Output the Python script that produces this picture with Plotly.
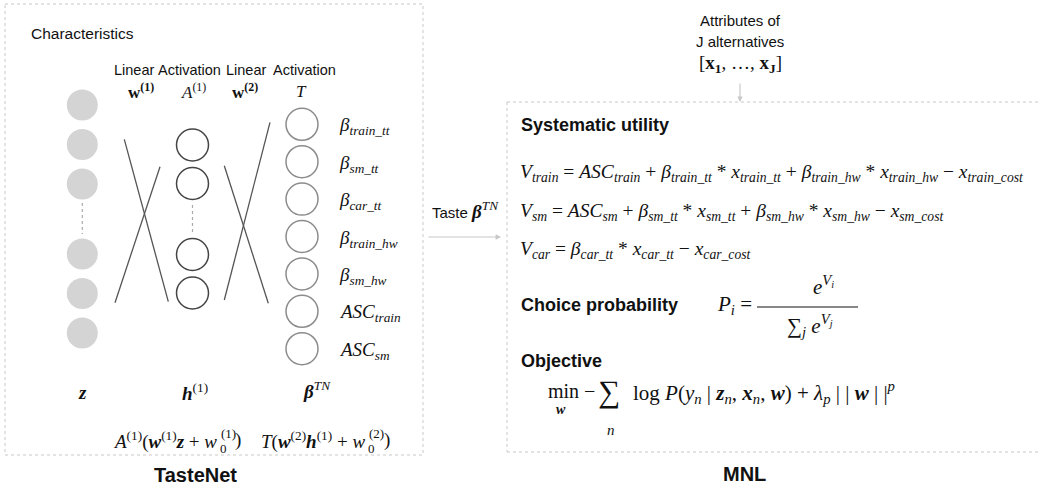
import plotly.graph_objects as go

W, H = 1040, 489
SERIF = "Liberation Serif"
SANS = "Liberation Sans"
INK = "#111111"
BOX = "#c8c8c8"

# ---- content (labels / structure) ----
layer_titles = ["Linear", "Activation", "Linear", "Activation"]
layer_ops = ["<b>w</b><sup><b>(1)</b></sup>", "<i>A</i><sup>(1)</sup>",
             "<b>w</b><sup><b>(2)</b></sup>", "<i>T</i>"]
input_groups = [3, 3]          # grey input nodes above / below the ellipsis
hidden_groups = [2, 2]         # hidden nodes above / below the ellipsis
taste_params = ["β<sub>train_tt</sub>", "β<sub>sm_tt</sub>", "β<sub>car_tt</sub>",
                "β<sub>train_hw</sub>", "β<sub>sm_hw</sub>",
                "ASC<sub>train</sub>", "ASC<sub>sm</sub>"]
alternatives = ["train", "sm", "car"]
utility_terms = {"train": ["ASC", "tt", "hw"], "sm": ["ASC", "tt", "hw"], "car": ["tt"]}
section_titles = ["Systematic utility", "Choice probability", "Objective"]
panel_titles = ["TasteNet", "MNL"]

fig = go.Figure()
shapes = []
ann = []


def txt(x, y, s, size, family=SERIF, xanchor="left", color=INK, yanchor="middle"):
    ann.append(dict(x=x, y=y, text=s, showarrow=False, xanchor=xanchor, yanchor=yanchor,
                    font=dict(family=family, size=size, color=color)))


def circle(cx, cy, r, fill=None, line=None, lw=1.5):
    shapes.append(dict(type="circle", x0=cx - r, x1=cx + r, y0=cy - r, y1=cy + r,
                       fillcolor=fill if fill else "rgba(0,0,0,0)",
                       line=dict(color=line if line else "rgba(0,0,0,0)", width=lw)))


def seg(x0, y0, x1, y1, color="#555555", w=1.3, dash=None):
    d = dict(color=color, width=w)
    if dash:
        d["dash"] = dash
    shapes.append(dict(type="line", x0=x0, y0=y0, x1=x1, y1=y1, line=d))


# ---- boxes ----
shapes.append(dict(type="rect", x0=5, y0=4, x1=423, y1=455,
                   line=dict(color=BOX, width=1, dash="dot")))
# MNL box runs off the right edge of the picture
seg(507, 102, W, 102, color=BOX, w=1, dash="dot")
seg(507, 102, 507, 452, color=BOX, w=1, dash="dot")
seg(507, 452, W, 452, color=BOX, w=1, dash="dot")

# ---- TasteNet ----
txt(29, 33, "Characteristics", 15.5, SANS)
title_x = [134, 189, 246, 304]
for tx, t in zip(title_x, layer_titles):
    txt(tx, 70, t, 14.5, SANS, xanchor="center")
op_x = [141, 193, 245, 301]
for ox, o in zip(op_x, layer_ops):
    txt(ox, 91, o, 17, SERIF, xanchor="center")

# input nodes
in_x, step_in = 82.3, 39.5
for gi, n in enumerate(input_groups):
    base = 105 if gi == 0 else 254
    for i in range(n):
        circle(in_x, base + i * step_in, 15.5, fill="#d4d4d4")
seg(in_x, 203, in_x, 234, color="#aaaaaa", w=1.2, dash="dot")

# hidden nodes
hid_x, step_h = 192.5, 38.5
for gi, n in enumerate(hidden_groups):
    base = 145 if gi == 0 else 254.5
    for i in range(n):
        circle(hid_x, base + i * step_h, 16, line="#444444", lw=1.5)
seg(hid_x, 205, hid_x, 235, color="#aaaaaa", w=1.2, dash="dot")

# output nodes
out_x, step_o = 302, 37.4
for i, p in enumerate(taste_params):
    cy = 124.3 + i * step_o
    circle(out_x, cy, 16, line="#8c8c8c", lw=1.5)
    txt(337, cy + 2, "<i>" + p + "</i>", 19, SERIF)

# connection crosses
seg(124.3, 139.3, 168.3, 301.7)
seg(160, 166.7, 115, 302.7)
seg(270, 122.3, 224.3, 300)
seg(224.3, 165.7, 268.3, 303.3)

# bottom labels
txt(82, 392, "<b><i>z</i></b>", 19, SERIF, xanchor="center")
txt(180, 392, "<b><i>h</i></b><sup>(1)</sup>", 19, SERIF, xanchor="left")
txt(301, 390, "<b><i>β</i></b><sup><i>TN</i></sup>", 19, SERIF, xanchor="left")

# layer formulas
txt(219, 440, "<i>A</i><sup>(1)</sup>(<b><i>w</i></b><sup>(1)</sup><b><i>z</i></b> + <i>w</i>",
    19, SERIF, xanchor="right")
txt(219, 433, "(1)", 13, SERIF)
txt(218, 448, "0", 13, SERIF)
txt(233, 440, ")", 19, SERIF)

txt(367, 440, "<i>T</i>(<b><i>w</i></b><sup>(2)</sup><b><i>h</i></b><sup>(1)</sup> + <i>w</i>",
    19, SERIF, xanchor="right")
txt(367, 433, "(2)", 13, SERIF)
txt(366, 448, "0", 13, SERIF)
txt(382, 440, ")", 19, SERIF)

txt(195, 475, "<b>" + panel_titles[0] + "</b>", 20, SANS, xanchor="center")

# ---- arrows ----
ann.append(dict(x=740, y=102, ax=740, ay=82, axref="x", ayref="y", xref="x", yref="y",
                showarrow=True, arrowhead=2, arrowsize=0.9, arrowwidth=1.2,
                arrowcolor="#c8c8c8", text=""))
ann.append(dict(x=501, y=237, ax=427, ay=237, axref="x", ayref="y", xref="x", yref="y",
                showarrow=True, arrowhead=2, arrowsize=0.9, arrowwidth=1.2,
                arrowcolor="#c8c8c8", text=""))

txt(740, 20, "Attributes of", 15, SANS, xanchor="center")
txt(740, 41, "J alternatives", 15, SANS, xanchor="center")
txt(740, 64, "[<b>x<sub>1</sub></b>, …, <b>x<sub>J</sub></b>]", 19, SERIF, xanchor="center")

txt(430, 212, "Taste ", 15, SANS)
txt(469, 210, "<b><i>β</i></b><sup><i>TN</i></sup>", 19, SERIF)

# ---- MNL ----
txt(519, 125, "<b>" + section_titles[0] + "</b>", 18, SANS)

eq_y = [173, 212, 250]
for alt, ey in zip(alternatives, eq_y):
    terms = utility_terms[alt]
    parts = []
    for t in terms:
        if t == "ASC":
            parts.append("<i>ASC<sub>%s</sub></i>" % alt)
        else:
            parts.append("<i>β<sub>%s_%s</sub></i> * <i>x<sub>%s_%s</sub></i>" % (alt, t, alt, t))
    s = "<i>V<sub>%s</sub></i> = " % alt + " + ".join(parts) + " − <i>x<sub>%s_cost</sub></i>" % alt
    txt(518, ey, s, 19.5, SERIF)

txt(519, 305, "<b>" + section_titles[1] + "</b>", 18, SANS)
txt(715, 305, "<i>P<sub>i</sub></i> =", 21, SERIF)
seg(757, 307, 858, 307, color=INK, w=1.2)
txt(823, 285, "<i>e<sup>V<sub>i</sub></sup></i>", 21, SERIF, xanchor="center")
txt(810, 325, "∑<sub><i>j</i></sub> <i>e<sup>V<sub>j</sub></sup></i>", 21, SERIF, xanchor="center")

txt(519, 361, "<b>" + section_titles[2] + "</b>", 18, SANS)
txt(546, 391, "min", 20, SERIF)
txt(561, 409, "<b><i>w</i></b>", 14, SERIF, xanchor="center")
txt(582, 391, "−", 20, SERIF)
txt(609, 391, "∑", 31, SERIF, xanchor="center")
txt(611, 430, "<i>n</i>", 15, SERIF, xanchor="center")
txt(631, 392, "log <i>P</i>(<i>y<sub>n</sub></i> | <b><i>z</i></b><sub><i>n</i></sub>, "
    "<b><i>x</i></b><sub><i>n</i></sub>, <b><i>w</i></b>) + <i>λ<sub>p</sub></i> | | "
    "<b><i>w</i></b> | |<sup><i>p</i></sup>", 21, SERIF)

txt(744, 474, "<b>" + panel_titles[1] + "</b>", 20, SANS, xanchor="center")

fig.update_layout(
    width=W, height=H, margin=dict(l=0, r=0, t=0, b=0),
    paper_bgcolor="white", plot_bgcolor="white",
    xaxis=dict(range=[0, W], visible=False, fixedrange=True),
    yaxis=dict(range=[H, 0], visible=False, fixedrange=True),
    shapes=shapes, annotations=ann, showlegend=False,
)
fig.write_html("out.html", config={"displayModeBar": False},
               post_script="document.body.style.margin='0';document.body.style.overflow='hidden';")
